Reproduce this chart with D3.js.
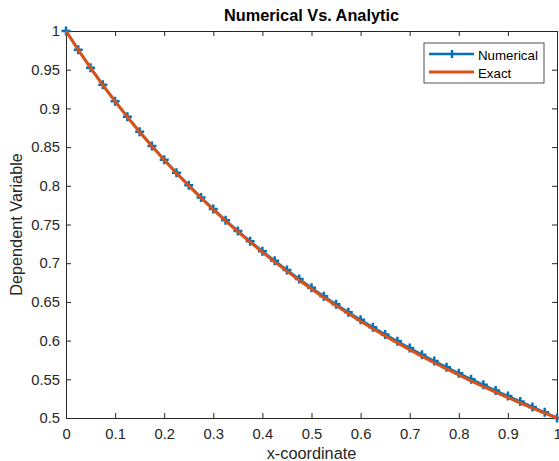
<!DOCTYPE html>
<html>
<head>
<meta charset="utf-8">
<script src="https://cdn.jsdelivr.net/npm/d3@7"></script>
<style>
  body { margin: 0; background: #fff; }
  svg { display: block; font-family: "Liberation Sans", Arial, sans-serif; }
  .axis path, .axis line { stroke: #262626; }
  .axis text { fill: #262626; font-size: 14.8px; }
</style>
</head>
<body>
<svg id="chart" width="559" height="461"></svg>
<script>
var xs = [0, 0.025, 0.05, 0.075, 0.1, 0.125, 0.15, 0.175, 0.2, 0.225, 0.25, 0.275, 0.3, 0.325, 0.35,
          0.375, 0.4, 0.425, 0.45, 0.475, 0.5, 0.525, 0.55, 0.575, 0.6, 0.625, 0.65, 0.675, 0.7,
          0.725, 0.75, 0.775, 0.8, 0.825, 0.85, 0.875, 0.9, 0.925, 0.95, 0.975, 1];

var numerical = [1, 0.9757, 0.9525, 0.9304, 0.9093, 0.8891, 0.8699, 0.8515, 0.8338, 0.8169, 0.8006,
                 0.7850, 0.7700, 0.7556, 0.7417, 0.7284, 0.7155, 0.7031, 0.6911, 0.6795, 0.6683,
                 0.6574, 0.6469, 0.6367, 0.6268, 0.6173, 0.6080, 0.5990, 0.5903, 0.5818, 0.5736,
                 0.5656, 0.5578, 0.5502, 0.5428, 0.5355, 0.5284, 0.5213, 0.5143, 0.5073, 0.5];

var exact = [1, 0.9756, 0.9524, 0.9302, 0.9091, 0.8889, 0.8696, 0.8511, 0.8333, 0.8163, 0.8,
             0.7843, 0.7692, 0.7547, 0.7407, 0.7273, 0.7143, 0.7018, 0.6897, 0.6780, 0.6667,
             0.6557, 0.6452, 0.6349, 0.6250, 0.6154, 0.6061, 0.5970, 0.5882, 0.5797, 0.5714,
             0.5634, 0.5556, 0.5479, 0.5405, 0.5333, 0.5263, 0.5195, 0.5128, 0.5063, 0.5];

var xTicks = [0, 0.1, 0.2, 0.3, 0.4, 0.5, 0.6, 0.7, 0.8, 0.9, 1];
var yTicks = [0.5, 0.55, 0.6, 0.65, 0.7, 0.75, 0.8, 0.85, 0.9, 0.95, 1];

(function() {
  var mLeft = 66, mTop = 31, mRight = 557, mBottom = 418;
  var blue = "#0072BD", orange = "#D95319";

  var svg = d3.select("#chart");

  var x = d3.scaleLinear().domain([0, 1]).range([mLeft, mRight]);
  var y = d3.scaleLinear().domain([0.5, 1]).range([mBottom, mTop]);

  var fmt = function(d) { return String(+d.toFixed(2)); };

  // axes with inward ticks on all four sides
  svg.append("g").attr("class", "axis")
     .attr("transform", "translate(0," + mBottom + ")")
     .call(d3.axisBottom(x).tickValues(xTicks).tickFormat(fmt).tickSizeInner(-5).tickSizeOuter(0).tickPadding(10));
  svg.append("g").attr("class", "axis")
     .attr("transform", "translate(0," + mTop + ")")
     .call(d3.axisTop(x).tickValues(xTicks).tickFormat("").tickSizeInner(-5).tickSizeOuter(0));
  svg.append("g").attr("class", "axis")
     .attr("transform", "translate(" + mLeft + ",0)")
     .call(d3.axisLeft(y).tickValues(yTicks).tickFormat(fmt).tickSizeInner(-5).tickSizeOuter(0).tickPadding(6));
  svg.append("g").attr("class", "axis")
     .attr("transform", "translate(" + mRight + ",0)")
     .call(d3.axisRight(y).tickValues(yTicks).tickFormat("").tickSizeInner(-5).tickSizeOuter(0));

  var pts = xs.map(function(d, i) { return {x: d, n: numerical[i], e: exact[i]}; });

  var plot = svg.append("g");

  plot.append("path")
      .datum(pts)
      .attr("fill", "none")
      .attr("stroke", blue)
      .attr("stroke-width", 2.5)
      .attr("d", d3.line().x(function(d) { return x(d.x); }).y(function(d) { return y(d.n); }));

  plot.selectAll(".mk")
      .data(pts)
      .enter().append("path")
      .attr("class", "mk")
      .attr("transform", function(d) { return "translate(" + x(d.x) + "," + y(d.n) + ")"; })
      .attr("d", "M-4.5,0H4.5M0,-4.5V4.5")
      .attr("stroke", blue)
      .attr("stroke-width", 2.5);

  plot.append("path")
      .datum(pts)
      .attr("fill", "none")
      .attr("stroke", orange)
      .attr("stroke-width", 3)
      .attr("d", d3.line().x(function(d) { return x(d.x); }).y(function(d) { return y(d.e); }));

  // title & labels
  svg.append("text")
     .attr("x", (mLeft + mRight) / 2).attr("y", 21)
     .attr("text-anchor", "middle")
     .attr("font-size", 16.3).attr("font-weight", "bold").attr("fill", "#000")
     .text("Numerical Vs. Analytic");

  svg.append("text")
     .attr("x", (mLeft + mRight) / 2).attr("y", 459)
     .attr("text-anchor", "middle")
     .attr("font-size", 16.3).attr("fill", "#262626")
     .text("x-coordinate");

  svg.append("text")
     .attr("transform", "translate(22," + (mTop + mBottom) / 2 + ") rotate(-90)")
     .attr("text-anchor", "middle")
     .attr("font-size", 16.3).attr("fill", "#262626")
     .text("Dependent Variable");

  // legend
  var lg = svg.append("g").attr("transform", "translate(424,43)");
  lg.append("rect").attr("width", 120).attr("height", 40)
    .attr("fill", "#fff").attr("stroke", "#262626").attr("stroke-width", 0.8);
  lg.append("line").attr("x1", 5).attr("x2", 50).attr("y1", 11).attr("y2", 11)
    .attr("stroke", blue).attr("stroke-width", 2.5);
  lg.append("path").attr("d", "M28,7V15").attr("stroke", blue).attr("stroke-width", 2.5);
  lg.append("text").attr("x", 54).attr("y", 16.5).attr("font-size", 13.3).attr("fill", "#000").text("Numerical");
  lg.append("line").attr("x1", 5).attr("x2", 50).attr("y1", 29).attr("y2", 29)
    .attr("stroke", orange).attr("stroke-width", 3);
  lg.append("text").attr("x", 54).attr("y", 34.5).attr("font-size", 13.3).attr("fill", "#000").text("Exact");
})();
</script>
</body>
</html>
